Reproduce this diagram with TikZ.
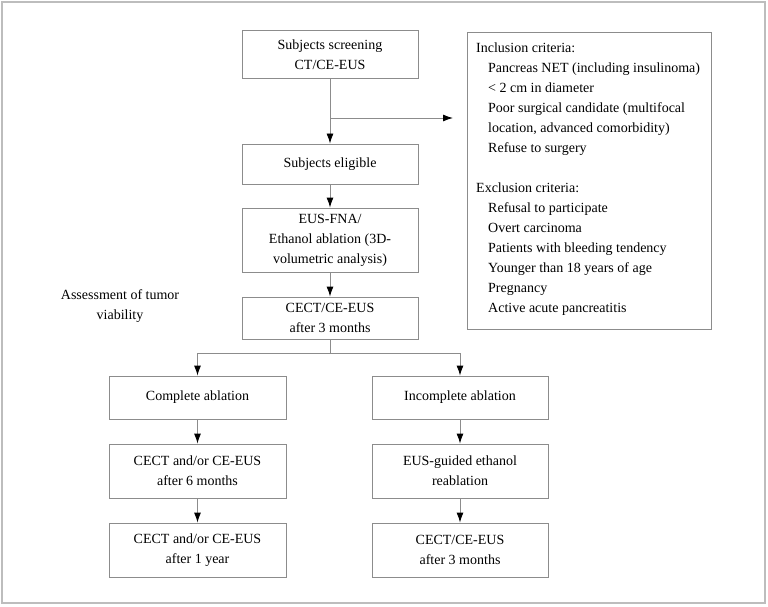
\documentclass[tikz,border=0pt]{standalone}
\usepackage{fontspec}
\setmainfont{Liberation Serif}
\usetikzlibrary{arrows.meta}

\definecolor{boxgray}{HTML}{8C8C8C}
\definecolor{framegray}{HTML}{BDBDBD}

\tikzset{
	stepbox/.style={draw=boxgray, line width=0.9pt, align=center, inner sep=2pt,
		font=\fontsize{14}{20}\selectfont},
	flow/.style={draw=boxgray, line width=0.9pt},
	flowarrow/.style={flow, -{Latex[color=black, length=10pt, width=7pt]}},
}

\begin{document}
\begin{tikzpicture}[x=1pt, y=-1pt]
			%%%%% START %%%%%
			
			\useasboundingbox (0, 0) rectangle (768, 607);
			\draw[framegray, line width=1.4pt] (2, 2) rectangle (765, 603);
			
			% main column
			\node[stepbox, minimum width=176pt, minimum height=48pt] (screen) at (330, 54.5) {Subjects screening\\CT/CE-EUS};
			\node[stepbox, minimum width=176pt, minimum height=40pt] (elig) at (330, 164) {Subjects eligible};
			\node[stepbox, minimum width=176pt, minimum height=64pt] (fna) at (330, 240) {EUS-FNA/\\Ethanol ablation (3D-\\volumetric analysis)};
			\node[stepbox, minimum width=176pt, minimum height=42pt] (cect) at (330, 318) {CECT/CE-EUS\\after 3 months};
			
			\node[align=center, font=\fontsize{14}{20}\selectfont] (assess) at (120, 306) {Assessment of tumor\\viability};
			
			% criteria
			\node[draw=boxgray, line width=0.9pt, minimum width=244pt, minimum height=297pt] (crit) at (589, 180.5) {};
			\node[anchor=north west, align=left, inner sep=0pt, font=\fontsize{14}{20}\selectfont] (crittext) at (476, 43) {Inclusion criteria:\\
				\hspace*{12pt}Pancreas NET (including insulinoma)\\
				\hspace*{12pt}< 2 cm in diameter\\
				\hspace*{12pt}Poor surgical candidate (multifocal\\
				\hspace*{12pt}location, advanced comorbidity)\\
				\hspace*{12pt}Refuse to surgery\\[20pt]
				Exclusion criteria:\\
				\hspace*{12pt}Refusal to participate\\
				\hspace*{12pt}Overt carcinoma\\
				\hspace*{12pt}Patients with bleeding tendency\\
				\hspace*{12pt}Younger than 18 years of age\\
				\hspace*{12pt}Pregnancy\\
				\hspace*{12pt}Active acute pancreatitis};
			
			% two arms
			\node[stepbox, minimum width=177pt, minimum height=43pt] (comp) at (197.5, 397.5) {Complete ablation};
			\node[stepbox, minimum width=177pt, minimum height=54pt] (comp6m) at (197.5, 471) {CECT and/or CE-EUS\\after 6 months};
			\node[stepbox, minimum width=177pt, minimum height=54pt] (comp1y) at (197.5, 550) {CECT and/or CE-EUS\\after 1 year};
			
			\node[stepbox, minimum width=176pt, minimum height=43pt] (incomp) at (460, 397.5) {Incomplete ablation};
			\node[stepbox, minimum width=176pt, minimum height=54pt] (reabl) at (460, 471) {EUS-guided ethanol\\reablation};
			\node[stepbox, minimum width=176pt, minimum height=54pt] (incomp3m) at (460, 550) {CECT/CE-EUS\\after 3 months};
			
			% connectors
			\coordinate (branch) at (330, 118);
			\coordinate (critin) at (453, 118);
			\coordinate (split) at (330, 353);
			
			\draw[flowarrow] (screen) -- (elig);
			\draw[flowarrow] (branch) -- (critin);
			\draw[flowarrow] (elig) -- (fna);
			\draw[flowarrow] (fna) -- (cect);
			\draw[flow] (cect) -- (split);
			\draw[flowarrow] (split) -| (comp);
			\draw[flowarrow] (split) -| (incomp);
			
			\draw[flowarrow] (comp) -- (comp6m);
			\draw[flowarrow] (comp6m) -- (comp1y);
			\draw[flowarrow] (incomp) -- (reabl);
			\draw[flowarrow] (reabl) -- (incomp3m);
			
			%%%%% END %%%%%
\end{tikzpicture}
\end{document}
